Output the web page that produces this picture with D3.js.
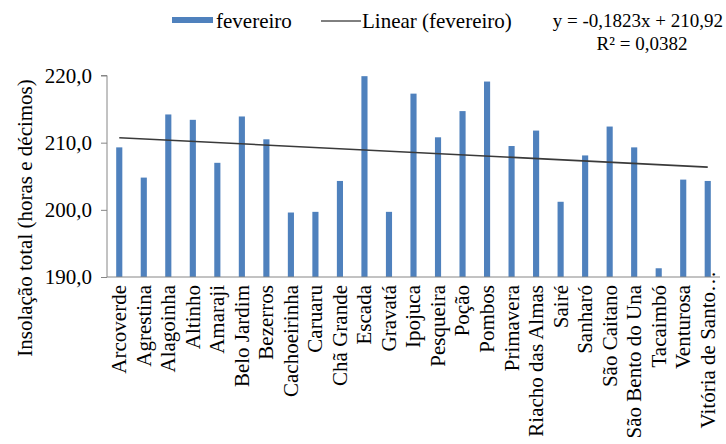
<!DOCTYPE html>
<html>
<head>
<meta charset="utf-8">
<script src="https://cdn.jsdelivr.net/npm/d3@7/dist/d3.min.js"></script>
<style>
  html, body { margin: 0; padding: 0; background: #fff; }
  svg text { font-family: "Liberation Serif", "Times New Roman", serif; fill: #000; }
</style>
</head>
<body>
<svg id="chart" width="726" height="444"></svg>
<script>
// Municípios e insolação total de fevereiro (horas e décimos)
const categories = [
  "Arcoverde", "Agrestina", "Alagoinha", "Altinho", "Amaraji", "Belo Jardim",
  "Bezerros", "Cachoeirinha", "Caruaru", "Chã Grande", "Escada", "Gravatá",
  "Ipojuca", "Pesqueira", "Poção", "Pombos", "Primavera", "Riacho das Almas",
  "Sairé", "Sanharó", "São Caitano", "São Bento do Una", "Tacaimbó",
  "Venturosa", "Vitória de Santo…"
];
const fevereiro = [
  209.3, 204.8, 214.2, 213.4, 207.0, 213.9,
  210.5, 199.6, 199.7, 204.3, 219.9, 199.7,
  217.3, 210.8, 214.7, 219.1, 209.5, 211.8,
  201.2, 208.1, 212.4, 209.3, 191.3,
  204.5, 204.3
];
const yTicks = [190, 200, 210, 220];
// Tendência linear: y = -0,1823x + 210,92
const trendSlope = -0.1823;
const trendIntercept = 210.92;
const trendLabel = ["y = -0,1823x + 210,92", "R² = 0,0382"];

const svg = d3.select("#chart");
const plot = { left: 107, right: 720, top: 74, bottom: 277 };

const x = d3.scaleBand()
  .domain(categories)
  .range([plot.left, plot.right])
  .paddingInner(0.75)
  .paddingOuter(0.375);

const y = d3.scaleLinear()
  .domain([190, 220])
  .range([plot.bottom, plot.top + 1.5]);

const fmt = v => v.toFixed(1).replace(".", ",");

// Eixo Y
const yAxis = svg.append("g")
  .attr("transform", `translate(${plot.left},0)`)
  .call(d3.axisLeft(y).tickValues(yTicks).tickFormat(fmt).tickSize(6).tickPadding(9));
yAxis.select(".domain").attr("stroke", "#868686").attr("d", `M-6,${y(220)}H0V${plot.bottom}`);
yAxis.selectAll(".tick line").attr("stroke", "#868686");
yAxis.selectAll(".tick text")
  .style("font-family", "'Liberation Serif', 'Times New Roman', serif")
  .style("font-size", "21px")
  .attr("fill", "#000");

// Barras
svg.append("g").selectAll("rect")
  .data(fevereiro)
  .join("rect")
  .attr("x", (d, i) => x(categories[i]))
  .attr("width", x.bandwidth())
  .attr("y", d => y(d))
  .attr("height", d => y(190) - y(d))
  .attr("fill", "#4F81BD");

// Eixo X
svg.append("line")
  .attr("x1", plot.left).attr("x2", plot.right)
  .attr("y1", plot.bottom).attr("y2", plot.bottom)
  .attr("stroke", "#868686").attr("stroke-width", 1);

const cx = c => x(c) + x.bandwidth() / 2;

// Rótulos das categorias (verticais); o último, truncado, sobe até a linha do eixo
const labels = svg.append("g").selectAll("text")
  .data(categories)
  .join("text")
  .style("font-size", "21px")
  .attr("text-anchor", "end")
  .attr("dy", "0.33em")
  .text(d => d);
labels.each(function (d, i) {
  const top = i === categories.length - 1 ? 271 : 285;
  d3.select(this).attr("transform", `translate(${cx(d)},${top}) rotate(-90)`);
});

// Linha de tendência
const xi = i => cx(categories[i - 1]);
svg.append("line")
  .attr("x1", xi(1)).attr("y1", y(trendSlope * 1 + trendIntercept))
  .attr("x2", xi(categories.length)).attr("y2", y(trendSlope * categories.length + trendIntercept))
  .attr("stroke", "#3a3a3a").attr("stroke-width", 1.6);

// Título do eixo Y
svg.append("text")
  .attr("transform", "translate(25,218) rotate(-90)")
  .attr("text-anchor", "middle")
  .attr("dy", "0.33em")
  .style("font-size", "21px")
  .text("Insolação total (horas e décimos)");

// Legenda
const legend = svg.append("g");
legend.append("rect").attr("x", 172).attr("y", 17).attr("width", 41).attr("height", 6).attr("fill", "#4F81BD");
legend.append("text").attr("x", 216).attr("y", 28).style("font-size", "21px").text("fevereiro");
legend.append("line").attr("x1", 321).attr("x2", 361).attr("y1", 21).attr("y2", 21)
  .attr("stroke", "#000").attr("stroke-width", 1);
legend.append("text").attr("x", 362).attr("y", 28).style("font-size", "21px").text("Linear (fevereiro)");

// Rótulo da equação
svg.append("text")
  .attr("x", 723).attr("y", 27)
  .attr("text-anchor", "end")
  .style("font-size", "19px")
  .text(trendLabel[0]);
svg.append("text")
  .attr("x", 642).attr("y", 50)
  .attr("text-anchor", "middle")
  .style("font-size", "19px")
  .text(trendLabel[1]);
</script>
</body>
</html>
